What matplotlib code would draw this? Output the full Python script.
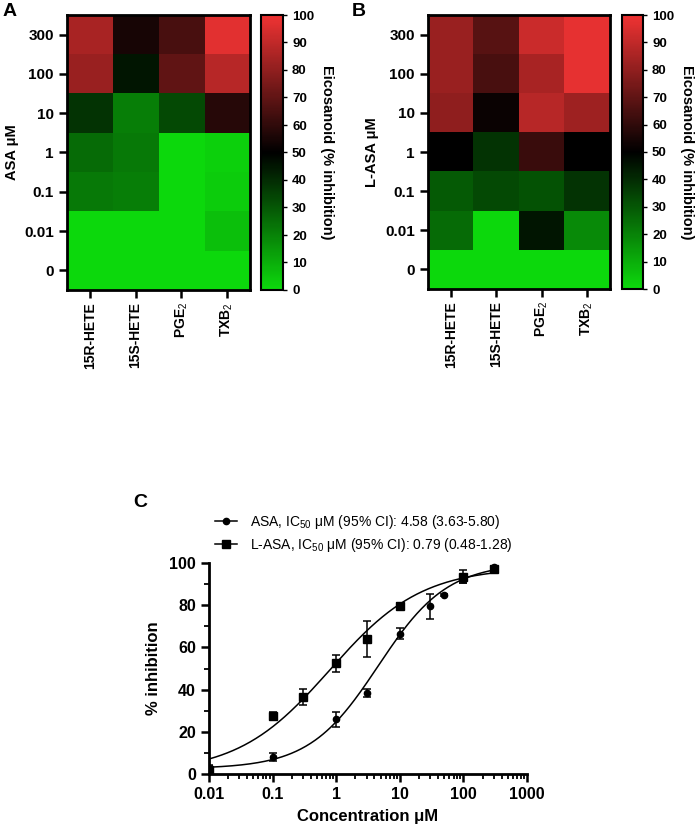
import numpy as np
import matplotlib
matplotlib.use("Agg")
import matplotlib.pyplot as plt
from matplotlib.colors import LinearSegmentedColormap
from matplotlib.ticker import LogLocator, MultipleLocator, NullFormatter

plt.rcParams['font.family'] = ['Liberation Sans', 'DejaVu Sans']
plt.rcParams['mathtext.fontset'] = 'custom'
plt.rcParams['mathtext.rm'] = 'Liberation Sans'
plt.rcParams['mathtext.bf'] = 'Liberation Sans:bold'
plt.rcParams['mathtext.it'] = 'Liberation Sans:italic'

# ---------------- data ----------------
eicosanoids = ["15R-HETE", "15S-HETE", "PGE$_2$", "TXB$_2$"]
conc_labels = ["300", "100", "10", "1", "0.1", "0.01", "0"]  # top to bottom

asa_heat = [
    [85, 55, 65, 97],   # 300
    [82, 45, 70, 88],   # 100
    [38, 21, 33, 58],   # 10
    [25, 22, 0, 2],     # 1
    [22, 21, 0, 3],     # 0.1
    [0, 0, 0, 6],       # 0.01
    [0, 0, 0, 0],       # 0
]
lasa_heat = [
    [82, 68, 92, 98],
    [82, 65, 85, 98],
    [80, 52, 88, 83],
    [50, 38, 62, 50],
    [29, 33, 31, 38],
    [25, 0, 45, 18],
    [0, 0, 0, 0],
]

asa_x = [0.01, 0.1, 1, 3, 10, 30, 50, 100, 300]
asa_y = [2, 8, 26, 38.5, 66.5, 79.5, 85, 92.5, 98]
asa_err = [2, 2, 3.5, 2, 2.5, 6, 0.5, 2, 0.5]

lasa_x = [0.01, 0.1, 0.3, 1, 3, 10, 100, 300]
lasa_y = [2, 27.5, 36.5, 52.5, 64, 79.5, 93.5, 97]
lasa_err = [2.5, 2, 4, 4, 8.5, 1.5, 3, 0.5]

# fitted Hill parameters (bottom, top, IC50, hill)
asa_fit = (2.5, 100, 4.58, 0.8)
lasa_fit = (0.5, 98, 0.79, 0.6)

asa_label = "ASA, IC$_{50}$ μM (95% CI): 4.58 (3.63-5.80)"
lasa_label = "L-ASA, IC$_{50}$ μM (95% CI): 0.79 (0.48-1.28)"

# ---------------- figure ----------------
W, H = 699, 838
fig = plt.figure(figsize=(W / 100, H / 100), dpi=100)

def ax_px(x0, y0, x1, y1):
    return fig.add_axes([x0 / W, 1 - y1 / H, (x1 - x0) / W, (y1 - y0) / H])

cmap = LinearSegmentedColormap.from_list(
    "gbr", [(0.0, (0.05, 0.85, 0.05)), (0.5, (0.0, 0.0, 0.0)), (1.0, (0.94, 0.2, 0.2))])

def heat(ax, cax, data, ylabel, letter, letter_x, ypad):
    arr = np.array(data, dtype=float)
    im = ax.imshow(arr, cmap=cmap, vmin=0, vmax=100, aspect='auto', interpolation='nearest')
    ax.set_xticks(range(len(eicosanoids)))
    ax.set_xticklabels(eicosanoids, rotation=90, fontsize=10, fontweight='bold')
    ax.set_yticks(range(len(conc_labels)))
    ax.set_yticklabels(conc_labels, fontsize=11, fontweight='bold')
    ax.set_ylabel(ylabel, fontsize=10.5, fontweight='bold', labelpad=ypad)
    ax.tick_params(direction='out', length=6, width=1.8)
    ax.tick_params(axis='x', pad=2.5)
    for s in ax.spines.values():
        s.set_linewidth(2)
    cb = fig.colorbar(im, cax=cax)
    cb.set_ticks(range(0, 101, 10))
    cb.ax.tick_params(labelsize=9.5, length=3, width=1)
    for t in cb.ax.get_yticklabels():
        t.set_fontweight('bold')
    cb.outline.set_linewidth(1.5)
    cb.set_label("Eicosanoid (% inhibition)", rotation=270, fontsize=10.5,
                 fontweight='bold', labelpad=14)
    fig.text(letter_x / W, 1 - 11 / H, letter, fontsize=14,
             fontweight='bold', va='center', ha='left')

axA = ax_px(67, 15, 250, 290)
caxA = ax_px(261, 15, 283, 290)
heat(axA, caxA, asa_heat, "ASA μM", "A", 3, 3.5)

axB = ax_px(428, 15, 610, 289)
caxB = ax_px(622, 15, 643, 289)
heat(axB, caxB, lasa_heat, "L-ASA μM", "B", 352, 4.5)

# ---------------- panel C ----------------
axC = ax_px(209, 563, 527, 774)

def hill(x, p):
    b, t, ic, h = p
    return b + (t - b) / (1 + (ic / x) ** h)

xs = np.logspace(-2, np.log10(320), 300)
axC.plot(xs, hill(xs, asa_fit), color='black', lw=1.1)
axC.plot(xs, hill(xs, lasa_fit), color='black', lw=1.1)
axC.errorbar(asa_x, asa_y, yerr=asa_err, fmt='o', ms=4.5, color='black',
             ecolor='black', elinewidth=1.1, capsize=3, capthick=1.1)
axC.errorbar(lasa_x, lasa_y, yerr=lasa_err, fmt='s', ms=5.5, color='black',
             ecolor='black', elinewidth=1.1, capsize=3, capthick=1.1)
# legend handles
h1, = axC.plot([], [], marker='o', ms=4.5, color='black', lw=1.1, label=asa_label)
h2, = axC.plot([], [], marker='s', ms=5.5, color='black', lw=1.1, label=lasa_label)
fig.legend(handles=[h1, h2], loc='upper left', bbox_to_anchor=(215 / W, 1 - 513 / H),
           frameon=False, fontsize=10, handlelength=1.6, handletextpad=0.9,
           borderaxespad=0, borderpad=0, labelspacing=0.35)

axC.set_xscale('log')
axC.set_xlim(0.01, 1000)
axC.set_ylim(0, 100)
axC.set_xticks([0.01, 0.1, 1, 10, 100, 1000])
axC.set_xticklabels(["0.01", "0.1", "1", "10", "100", "1000"])
axC.xaxis.set_minor_locator(LogLocator(base=10, subs=np.arange(2, 10), numticks=20))
axC.xaxis.set_minor_formatter(NullFormatter())
axC.set_yticks(range(0, 101, 20))
axC.yaxis.set_minor_locator(MultipleLocator(10))
axC.tick_params(which='major', direction='out', length=6, width=1.8, labelsize=11.5)
axC.tick_params(which='minor', direction='out', length=3.5, width=1.3)
for t in axC.get_xticklabels() + axC.get_yticklabels():
    t.set_fontweight('bold')
for s in ['top', 'right']:
    axC.spines[s].set_visible(False)
for s in ['left', 'bottom']:
    axC.spines[s].set_linewidth(2)
axC.set_xlabel("Concentration μM", fontsize=12, fontweight='bold', labelpad=5)
axC.set_ylabel("% inhibition", fontsize=12, fontweight='bold', labelpad=6)
fig.text(133 / W, 1 - 502 / H, "C", fontsize=14,
         fontweight='bold', va='center', ha='left')

fig.savefig("out.png", dpi=100)
